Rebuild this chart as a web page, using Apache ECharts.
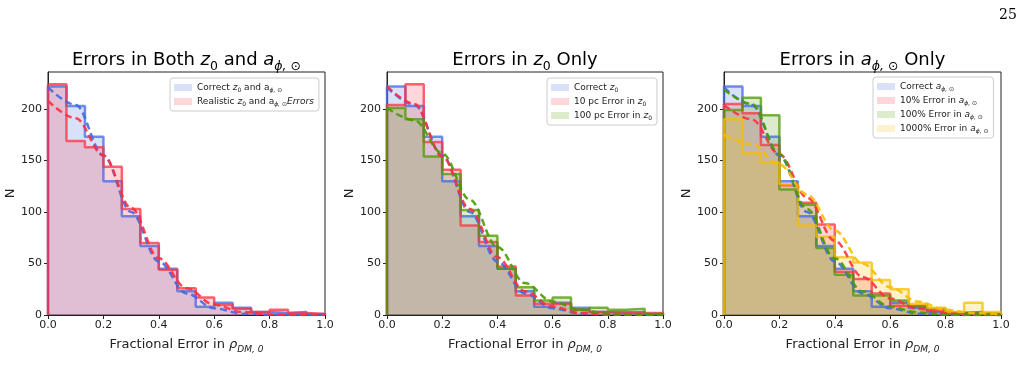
<!DOCTYPE html>
<html>
<head>
<meta charset="utf-8">
<script src="https://cdn.jsdelivr.net/npm/echarts@6/dist/echarts.min.js"></script>
<style>
  html, body { margin: 0; padding: 0; background: #fff; }
  #chart { width: 1024px; height: 380px; }
</style>
</head>
<body>
<div id="chart"></div>
<script>
// 15 equal bins on [0, 1]
const nBins = 15
const binEdges = [...new Array(nBins)].map((_, i) => i / nBins)

// histogram counts
const correct = [222, 203, 173, 130, 96, 67, 45, 23, 8, 12, 7, 3, 2, 3, 1]
const realistic = [224, 169, 163, 144, 103, 70, 44, 26, 17, 10, 6, 3, 5, 2, 1]
const tenPc = [204, 224, 168, 141, 87, 71, 47, 19, 11, 11, 5, 3, 3, 2, 2]
const hundredPc = [201, 190, 154, 137, 102, 77, 45, 27, 14, 17, 5, 7, 5, 6, 1]
const tenPct = [205, 196, 165, 126, 109, 88, 42, 35, 21, 9, 9, 4, 2, 2, 1]
const hundredPct = [199, 211, 194, 122, 107, 65, 39, 19, 19, 14, 8, 6, 2, 2, 1]
const thousandPct = [190, 157, 148, 127, 87, 76, 56, 51, 34, 25, 11, 7, 3, 12, 3]

// dashed fit curves, sampled off the figure
const fitX = [0, 0.1, 0.2, 0.3, 0.4, 0.5, 0.6, 0.7, 0.8, 0.9, 1.0]
const fitCorrect = [221, 204, 155, 100, 52, 21, 6.5, 1.5, 0.3, 0, 0]
const fitRealistic = [208, 191, 155, 104, 55, 26, 10, 3, 0.6, 0.1, 0]
const fitTenPc = [222, 205, 154, 103, 56, 23, 8, 2, 0.5, 0, 0]
const fitHundredPc = [201, 189, 157, 112, 66, 31, 13, 5, 1.5, 0.4, 0]
const fitTenPct = [204, 190, 156, 114, 72, 37, 16, 6, 1.6, 0.4, 0]
const fitHundredPct = [219, 205, 156, 103, 55, 23, 8, 2.5, 0.5, 0, 0]
const fitThousandPct = [175, 166, 146, 117, 82, 50, 27, 13, 5, 2, 0.5]

const yTicks = [0, 50, 100, 150, 200]

const BLUE = '#4169e1'
const RED = '#ff3040'
const GREEN = '#4c9a00'
const GOLD = '#f8bd00'
const INK = '#222'
const FONT = 'DejaVu Sans'

const grids = [
	{ left: 48, top: 72, width: 277, height: 243 },
	{ left: 387, top: 72, width: 276, height: 243 },
	{ left: 724, top: 72, width: 277, height: 243 },
]

// rich text styles: i = italic, s = italic subscript, su = upright subscript
const makeRich = (size, subSize, lh, subLh, color) => ({
	i: { fontStyle: 'italic', fontFamily: FONT, fontSize: size, lineHeight: lh, color },
	s: { fontStyle: 'italic', fontFamily: FONT, fontSize: subSize, lineHeight: subLh, verticalAlign: 'bottom', color },
	su: { fontFamily: FONT, fontSize: subSize, lineHeight: subLh, verticalAlign: 'bottom', color },
})

const labels = {
	c1: 'Correct {i|z}{su|0} and a{s|ϕ, ⊙}',
	r1: 'Realistic {i|z}{su|0} and a{s|ϕ, ⊙}{i|Errors}',
	c2: 'Correct {i|z}{su|0}',
	r2: '10 pc Error in {i|z}{su|0}',
	g2: '100 pc Error in {i|z}{su|0}',
	c3: 'Correct {i|a}{s|ϕ, ⊙}',
	r3: '10% Error in {i|a}{s|ϕ, ⊙}',
	g3: '100% Error in {i|a}{s|ϕ, ⊙}',
	y3: '1000% Error in {i|a}{s|ϕ, ⊙}',
}

const light = (c) => echarts.color.modifyAlpha(c, 0.2)

const histSeries = (name, counts, color, idx) => {
	const data = [[0, 0]]
	counts.forEach((v, i) => data.push([binEdges[i], v]))
	data.push([1, counts[counts.length - 1]])
	data.push([1, 0])
	return {
		name,
		type: 'line',
		step: 'end',
		xAxisIndex: idx,
		yAxisIndex: idx,
		data,
		symbol: 'none',
		silent: true,
		z: 2,
		lineStyle: { color, width: 2.5, opacity: 0.75 },
		itemStyle: { color },
		areaStyle: { color, opacity: 0.2 },
	}
}

const fitSeries = (values, color, idx) => ({
	type: 'line',
	xAxisIndex: idx,
	yAxisIndex: idx,
	data: fitX.map((x, i) => [x, values[i]]),
	smooth: 0.35,
	smoothMonotone: 'x',
	symbol: 'none',
	silent: true,
	z: 3,
	lineStyle: { color, width: 2.5, type: [7, 4], opacity: 0.9 },
})

const legend = (names, colors, left, top) => ({
	orient: 'vertical',
	left,
	top,
	icon: 'rect',
	itemWidth: 18,
	itemHeight: 7,
	itemGap: 3,
	padding: [4, 5, 4, 4],
	backgroundColor: 'rgba(255,255,255,0.85)',
	borderColor: '#ccc',
	borderWidth: 1,
	borderRadius: 3,
	selectedMode: false,
	data: names.map((n, i) => ({ name: n, itemStyle: { color: light(colors[i]), borderWidth: 0 } })),
	formatter: (n) => labels[n],
	textStyle: { fontFamily: FONT, fontSize: 9, lineHeight: 11, color: INK, rich: makeRich(9, 6, 11, 5, INK) },
})

const titles = [
	'Errors in Both {i|z}{su|0} and {i|a}{s|ϕ, ⊙}',
	'Errors in {i|z}{su|0} Only',
	'Errors in {i|a}{s|ϕ, ⊙} Only',
]

const option = {
	animation: false,
	backgroundColor: '#fff',
	title: [
		...titles.map((t, i) => ({
			text: t,
			left: grids[i].left + grids[i].width / 2,
			top: 48,
			padding: 0,
			textAlign: 'center',
			textStyle: {
				fontFamily: FONT,
				fontSize: 18,
				lineHeight: 25,
				fontWeight: 'normal',
				color: '#000',
				rich: makeRich(18, 12.5, 25, 13, '#000'),
			},
		})),
		{
			text: '25',
			left: 994,
			top: 3,
			textStyle: { fontFamily: 'DejaVu Serif', fontSize: 14, fontWeight: 'normal', color: '#000' },
		},
	],
	legend: [
		legend(['c1', 'r1'], [BLUE, RED], 170, 78),
		legend(['c2', 'r2', 'g2'], [BLUE, RED, GREEN], 547, 78),
		legend(['c3', 'r3', 'g3', 'y3'], [BLUE, RED, GREEN, GOLD], 873, 77),
	],
	grid: grids.map((g) => ({ ...g, show: true, borderColor: INK, borderWidth: 1, backgroundColor: 'transparent' })),
	xAxis: grids.map((g, i) => ({
		type: 'value',
		gridIndex: i,
		min: 0,
		max: 1,
		interval: 0.2,
		name: 'Fractional Error in {i|ρ}{s|DM, 0}',
		nameLocation: 'middle',
		nameGap: 16,
		nameTextStyle: {
			fontFamily: FONT,
			fontSize: 13,
			lineHeight: 18,
			color: INK,
			rich: makeRich(13, 9, 18, 10, INK),
		},
		splitLine: { show: false },
		axisLine: { onZero: false, lineStyle: { color: INK, width: 1 } },
		axisTick: { length: 4, lineStyle: { color: INK } },
		axisLabel: {
			fontFamily: FONT,
			fontSize: 11,
			color: INK,
			margin: 5,
			formatter: (v) => v.toFixed(1),
		},
	})),
	yAxis: grids.map((g, i) => ({
		type: 'value',
		gridIndex: i,
		min: 0,
		max: 236,
		name: 'N',
		nameLocation: 'middle',
		nameGap: 30,
		nameTextStyle: { fontFamily: FONT, fontSize: 13, color: INK },
		splitLine: { show: false },
		axisLine: { show: true, onZero: false, lineStyle: { color: INK, width: 1 } },
		axisTick: { show: true, length: 4, customValues: yTicks, lineStyle: { color: INK } },
		axisLabel: { fontFamily: FONT, fontSize: 11, color: INK, margin: 6, customValues: yTicks },
	})),
	series: [
		histSeries('c1', correct, BLUE, 0),
		histSeries('r1', realistic, RED, 0),
		fitSeries(fitCorrect, BLUE, 0),
		fitSeries(fitRealistic, RED, 0),

		histSeries('c2', correct, BLUE, 1),
		histSeries('r2', tenPc, RED, 1),
		histSeries('g2', hundredPc, GREEN, 1),
		fitSeries(fitCorrect, BLUE, 1),
		fitSeries(fitTenPc, RED, 1),
		fitSeries(fitHundredPc, GREEN, 1),

		histSeries('c3', correct, BLUE, 2),
		histSeries('r3', tenPct, RED, 2),
		histSeries('g3', hundredPct, GREEN, 2),
		histSeries('y3', thousandPct, GOLD, 2),
		fitSeries(fitCorrect, BLUE, 2),
		fitSeries(fitTenPct, RED, 2),
		fitSeries(fitHundredPct, GREEN, 2),
		fitSeries(fitThousandPct, GOLD, 2),
	],
}

const myChart = echarts.init(document.getElementById('chart'))
myChart.setOption(option)
</script>
</body>
</html>
